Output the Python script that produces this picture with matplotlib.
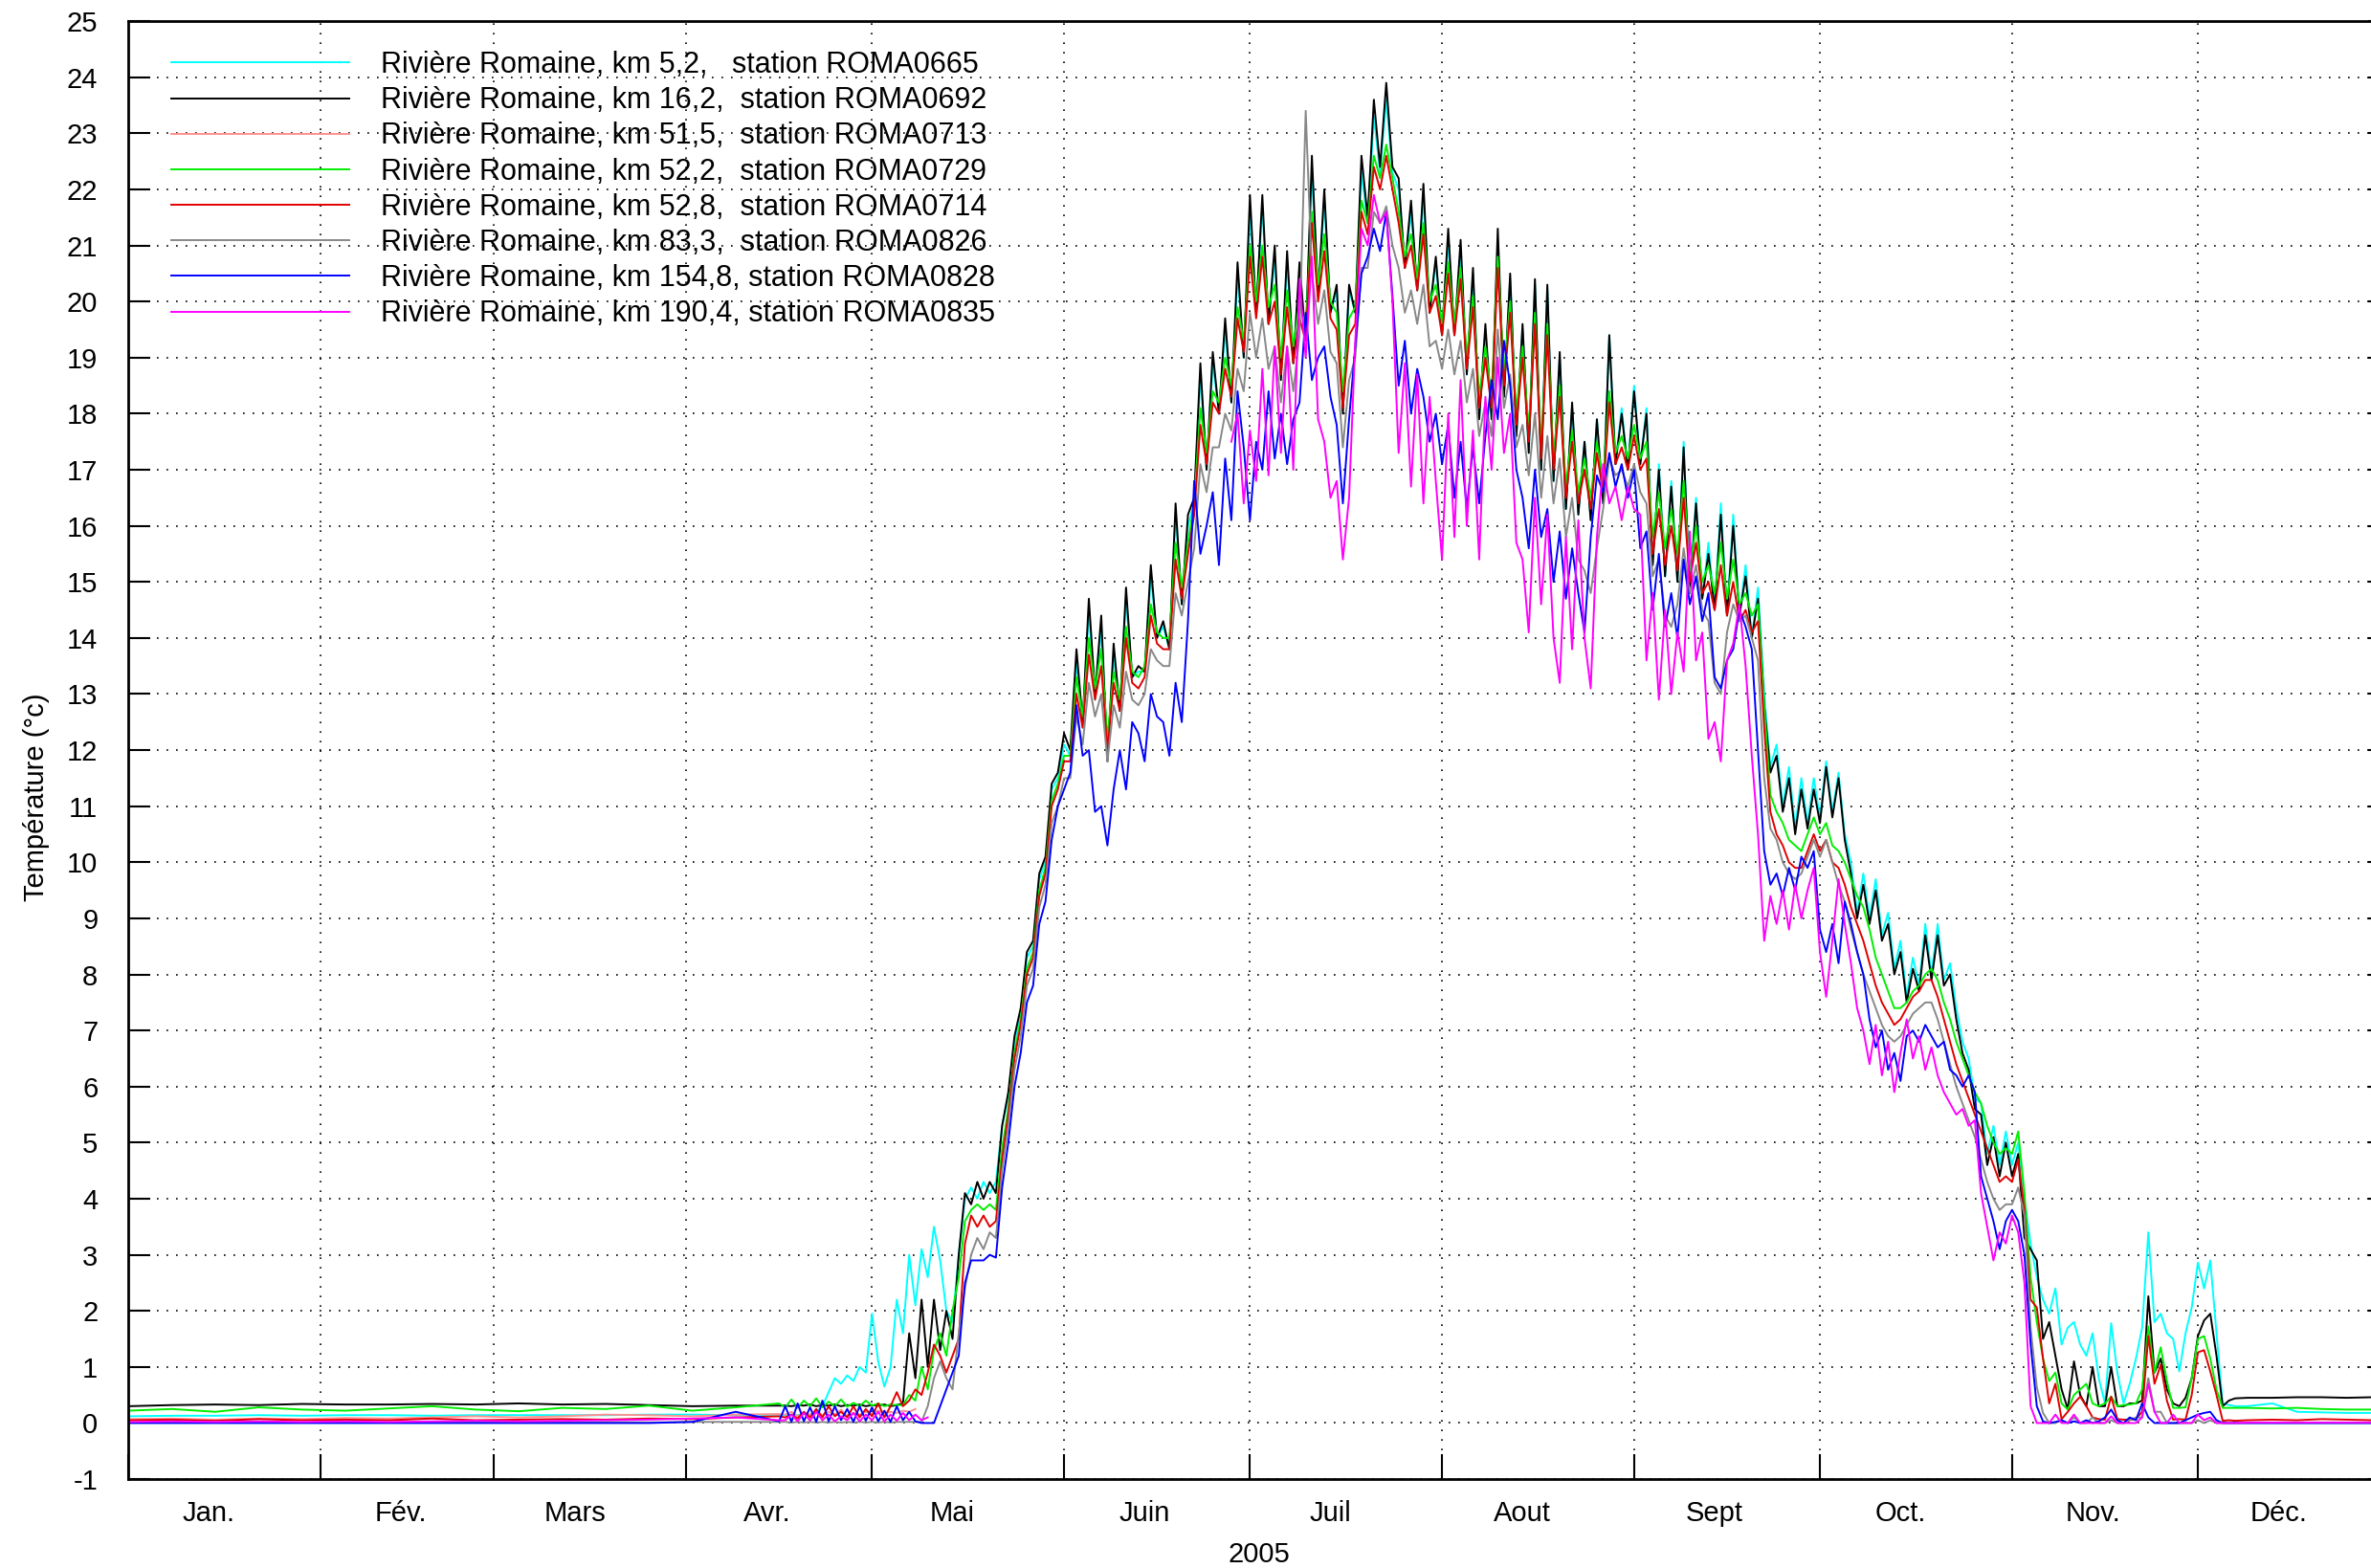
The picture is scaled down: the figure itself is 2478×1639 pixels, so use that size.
import numpy as np
import matplotlib.pyplot as plt

plt.rcParams['font.family'] = ['Liberation Sans', 'DejaVu Sans']
plt.rcParams['axes.unicode_minus'] = False

nan = np.nan

# sample days (day of year 2005, 0 = 1 Jan): weekly in winter, daily Apr-Dec, then every 4 days
days = np.concatenate([np.arange(0, 106, 7), np.arange(106, 341), np.r_[342:363:4, 365]])

month_starts = [0, 31, 59, 90, 120, 151, 181, 212, 243, 273, 304, 334]
month_names = ['Jan.', 'Fév.', 'Mars', 'Avr.', 'Mai', 'Juin', 'Juil', 'Aout', 'Sept', 'Oct.', 'Nov.', 'Déc.']

# water temperature (°C)
roma0665 = [
    0.12, 0.13, 0.13, 0.14, 0.13, 0.14, 0.14, 0.13, 0.14, 0.14, 0.14, 0.14, 0.15, 0.15, 0.14, 0.15,
    0.14, 0.15, 0.14, 0.16, 0.15, 0.20, 0.30, 0.55, 0.80, 0.70,   # 106
    0.85, 0.75, 1.0, 0.9, 1.95, 1.1, 0.65, 1.0, 2.2, 1.6,         # 116
    3.0, 2.1, 3.1, 2.6, 3.5, 2.9, 2.0, 1.8, 3.0, 4.0,             # 126
    4.2, 4.0, 4.3, 4.1, 4.3, 5.3, 5.8, 6.8, 7.3, 8.3,             # 136
    8.5, 9.7, 10.0, 11.3, 11.5, 12.1, 11.9, 13.6, 12.4, 14.5,     # 146
    12.9, 14.2, 11.9, 13.7, 12.7, 14.7, 13.3, 13.4, 13.4, 15.1,   # 156
    14.0, 14.2, 13.8, 16.2, 14.6, 16.0, 16.4, 18.7, 17.0, 18.9,   # 166
    18.0, 19.5, 18.2, 20.5, 19.0, 21.6, 19.8, 21.7, 19.6, 20.8,   # 176
    18.7, 20.7, 18.9, 20.5, 19.3, 22.3, 20.1, 21.8, 19.8, 20.2,   # 186
    18.1, 20.2, 19.8, 22.3, 21.4, 23.3, 22.3, 23.6, 22.3, 22.0,   # 196
    20.6, 21.6, 20.2, 21.9, 19.8, 20.7, 19.4, 21.1, 19.4, 20.9,   # 206
    18.7, 20.5, 17.9, 19.5, 17.9, 21.1, 18.3, 20.4, 17.6, 19.5,   # 216
    17.3, 20.3, 17.0, 20.2, 16.8, 19.0, 16.3, 18.1, 16.2, 17.5,   # 226
    16.1, 17.9, 16.4, 19.4, 17.1, 18.1, 17.0, 18.5, 17.1, 18.1,   # 236
    15.3, 17.1, 15.1, 16.8, 15.0, 17.5, 14.8, 16.5, 14.7, 15.7,   # 246
    14.5, 16.4, 14.4, 16.2, 14.4, 15.3, 14.0, 14.9, 13.0, 11.7,   # 256
    12.1, 11.0, 11.7, 10.6, 11.5, 10.7, 11.5, 10.8, 11.8, 10.9,   # 266
    11.6, 10.5, 10.0, 9.1, 9.8, 9.0, 9.7, 8.7, 9.1, 8.1,          # 276
    8.6, 7.6, 8.3, 7.8, 8.9, 8.0, 8.9, 7.9, 8.2, 7.4,             # 286
    6.8, 6.5, 5.8, 5.7, 4.8, 5.3, 4.6, 5.2, 4.6, 5.0,             # 296
    4.0, 3.2, 2.6, 2.2, 1.95, 2.4, 1.4, 1.7, 1.8, 1.4,            # 306
    1.2, 1.6, 0.8, 0.35, 1.78, 0.9, 0.35, 0.7, 1.15, 1.7,         # 316
    3.4, 1.8, 1.95, 1.6, 1.5, 0.92, 1.6, 2.06, 2.86, 2.4,         # 326
    2.9, 1.6, 0.35, 0.32, 0.30,                                   # 336
    0.30, 0.35, 0.20, 0.19, 0.18, 0.18, 0.18,
]

roma0692 = [
    0.30, 0.32, 0.33, 0.32, 0.34, 0.33, 0.33, 0.34, 0.33, 0.35, 0.33, 0.34, 0.32, 0.30, 0.31, 0.31,
    0.31, 0.30, 0.32, 0.31, 0.33, 0.30, 0.32, 0.31, 0.33, 0.30,   # 106
    0.32, 0.31, 0.33, 0.30, 0.32, 0.31, 0.33, 0.30, 0.32, 0.35,   # 116
    1.6, 0.8, 2.2, 1.0, 2.2, 1.3, 2.0, 1.5, 3.0, 4.1,             # 126
    3.9, 4.3, 4.0, 4.3, 4.1, 5.3, 5.9, 6.9, 7.4, 8.4,             # 136
    8.6, 9.8, 10.1, 11.4, 11.6, 12.3, 12.0, 13.8, 12.5, 14.7,     # 146
    13.0, 14.4, 11.8, 13.9, 12.7, 14.9, 13.3, 13.5, 13.4, 15.3,   # 156
    14.0, 14.3, 13.8, 16.4, 14.6, 16.2, 16.5, 18.9, 17.0, 19.1,   # 166
    18.0, 19.7, 18.2, 20.7, 19.0, 21.9, 19.8, 21.9, 19.6, 21.0,   # 176
    18.6, 20.9, 18.9, 20.7, 19.3, 22.6, 20.1, 22.0, 19.8, 20.3,   # 186
    18.0, 20.3, 19.8, 22.6, 21.5, 23.6, 22.4, 23.9, 22.4, 22.2,   # 196
    20.6, 21.8, 20.2, 22.1, 19.8, 20.8, 19.4, 21.3, 19.4, 21.1,   # 206
    18.7, 20.6, 17.9, 19.6, 17.9, 21.3, 18.3, 20.5, 17.6, 19.6,   # 216
    17.3, 20.4, 17.0, 20.3, 16.8, 19.1, 16.3, 18.2, 16.2, 17.5,   # 226
    16.1, 17.9, 16.4, 19.4, 17.1, 18.0, 17.0, 18.4, 17.1, 18.0,   # 236
    15.3, 17.0, 15.1, 16.7, 15.0, 17.4, 14.8, 16.4, 14.7, 15.5,   # 246
    14.5, 16.2, 14.4, 16.0, 14.4, 15.1, 14.0, 14.7, 12.8, 11.6,   # 256
    11.9, 10.9, 11.5, 10.5, 11.3, 10.6, 11.3, 10.7, 11.7, 10.8,   # 266
    11.5, 10.4, 9.8, 9.0, 9.6, 8.9, 9.5, 8.6, 8.9, 8.0,           # 276
    8.4, 7.5, 8.1, 7.7, 8.7, 7.9, 8.7, 7.8, 8.0, 7.2,             # 286
    6.6, 6.3, 5.6, 5.5, 4.6, 5.1, 4.4, 5.0, 4.4, 4.8,             # 296
    3.3, 3.1, 2.9, 1.5, 1.8, 1.2, 0.6, 0.25, 1.1, 0.5,            # 306
    0.3, 1.0, 0.3, 0.3, 1.0, 0.3, 0.3, 0.35, 0.35, 0.4,           # 316
    2.26, 0.9, 1.15, 0.6, 0.35, 0.3, 0.45, 0.8, 1.55, 1.83,       # 326
    1.95, 1.2, 0.3, 0.4, 0.44,                                    # 336
    0.45, 0.45, 0.46, 0.46, 0.45, 0.46, 0.46,
]

# ROMA0713 only recorded until early May
roma0713 = [
    0.07, 0.08, 0.06, 0.08, 0.07, 0.09, 0.08, 0.10, 0.12, 0.10, 0.12, 0.15, 0.14, 0.12, 0.15, 0.16,
    0.15, 0.20, 0.12, 0.18, 0.15, 0.22, 0.14, 0.20, 0.15, 0.24,   # 106
    0.13, 0.18, 0.15, 0.20, 0.17, 0.22, 0.16, 0.20, 0.18, 0.22,   # 116
    0.20, 0.25,                                                   # 126
]

roma0729 = [
    0.22, 0.25, 0.20, 0.28, 0.24, 0.22, 0.26, 0.30, 0.24, 0.21, 0.27, 0.25, 0.31, 0.22, 0.28, 0.35,
    0.28, 0.42, 0.27, 0.40, 0.30, 0.44, 0.28, 0.38, 0.30, 0.42,   # 106
    0.29, 0.36, 0.30, 0.40, 0.31, 0.35, 0.30, 0.33, 0.32, 0.32,   # 116
    0.5, 0.4, 1.0, 0.6, 1.3, 1.6, 1.2, 2.0, 2.6, 3.6,             # 126
    3.8, 3.9, 3.8, 3.9, 3.8, 4.9, 5.6, 6.6, 7.2, 8.1,             # 136
    8.4, 9.5, 9.9, 11.1, 11.4, 11.9, 11.9, 13.3, 12.6, 14.0,      # 146
    13.1, 13.8, 12.2, 13.4, 12.9, 14.2, 13.4, 13.3, 13.5, 14.6,   # 156
    14.1, 14.0, 14.0, 15.7, 14.9, 15.7, 16.4, 18.1, 17.3, 18.4,   # 166
    18.2, 19.0, 18.5, 19.9, 19.3, 21.0, 20.0, 21.0, 19.9, 20.3,   # 176
    19.0, 20.2, 19.2, 20.0, 19.5, 21.6, 20.3, 21.2, 20.0, 19.8,   # 186
    18.4, 19.7, 19.9, 21.8, 21.4, 22.6, 22.2, 22.8, 22.2, 21.6,   # 196
    20.8, 21.2, 20.4, 21.4, 20.0, 20.3, 19.6, 20.7, 19.6, 20.6,   # 206
    19.0, 20.1, 18.3, 19.2, 18.3, 20.8, 18.7, 20.0, 18.0, 19.2,   # 216
    17.7, 19.8, 17.4, 19.6, 17.2, 18.5, 16.7, 17.7, 16.6, 17.2,   # 226
    16.5, 17.5, 16.8, 18.4, 17.3, 17.6, 17.2, 17.8, 17.2, 17.5,   # 236
    15.8, 16.6, 15.6, 16.3, 15.5, 16.8, 15.2, 16.0, 15.0, 15.3,   # 246
    14.8, 15.7, 14.7, 15.4, 14.6, 14.8, 14.4, 14.6, 12.8, 11.2,   # 256
    10.9, 10.7, 10.4, 10.3, 10.2, 10.5, 10.8, 10.5, 10.7, 10.3,   # 266
    10.2, 10.0, 9.7, 9.4, 9.2, 8.8, 8.3, 8.0, 7.7, 7.4,           # 276
    7.4, 7.5, 7.7, 7.8, 8.0, 8.1, 7.9, 7.5, 7.2, 6.8,             # 286
    6.5, 6.2, 5.9, 5.7, 5.3, 5.0, 4.8, 4.9, 4.8, 5.2,             # 296
    4.1, 2.6, 1.8, 1.15, 0.75, 0.9, 0.35, 0.24, 0.5, 0.6,         # 306
    0.7, 0.35, 0.3, 0.35, 0.47, 0.3, 0.32, 0.33, 0.35, 0.6,       # 316
    1.72, 0.9, 1.35, 0.75, 0.27, 0.27, 0.28, 0.8, 1.5, 1.55,      # 326
    1.15, 0.6, 0.27, 0.27, 0.27,                                  # 336
    0.27, 0.26, 0.27, 0.25, 0.24, 0.24, 0.24,
]

roma0714 = [
    0.05, 0.06, 0.04, 0.07, 0.05, 0.06, 0.05, 0.08, 0.05, 0.06, 0.07, 0.06, 0.08, 0.07, 0.10, 0.12,
    0.10, 0.15, 0.08, 0.20, 0.10, 0.25, 0.10, 0.30, 0.12, 0.20,   # 106
    0.10, 0.30, 0.10, 0.25, 0.12, 0.35, 0.10, 0.30, 0.55, 0.30,   # 116
    0.4, 0.6, 0.5, 0.9, 1.4, 1.2, 0.9, 1.2, 1.5, 3.2,             # 126
    3.7, 3.5, 3.7, 3.5, 3.6, 4.7, 5.5, 6.5, 7.1, 8.0,             # 136
    8.3, 9.4, 9.8, 11.0, 11.3, 11.8, 11.8, 13.0, 12.4, 13.7,      # 146
    12.9, 13.5, 12.0, 13.2, 12.7, 14.0, 13.2, 13.1, 13.3, 14.4,   # 156
    13.9, 13.8, 13.8, 15.4, 14.7, 15.5, 16.2, 17.8, 17.1, 18.2,   # 166
    18.0, 18.8, 18.3, 19.7, 19.1, 20.8, 19.7, 20.8, 19.6, 20.0,   # 176
    18.7, 19.9, 18.9, 19.7, 19.3, 21.4, 20.0, 20.9, 19.7, 19.5,   # 186
    18.1, 19.4, 19.6, 21.6, 21.2, 22.4, 22.0, 22.6, 22.0, 21.4,   # 196
    20.6, 21.0, 20.2, 21.2, 19.8, 20.1, 19.4, 20.5, 19.4, 20.4,   # 206
    18.8, 19.9, 18.1, 19.0, 18.1, 20.6, 18.5, 19.8, 17.8, 19.0,   # 216
    17.5, 19.6, 17.2, 19.4, 17.0, 18.3, 16.5, 17.5, 16.4, 17.0,   # 226
    16.3, 17.3, 16.6, 18.2, 17.1, 17.4, 17.0, 17.6, 17.0, 17.2,   # 236
    15.5, 16.3, 15.3, 16.0, 15.2, 16.5, 15.0, 15.7, 14.8, 15.0,   # 246
    14.5, 15.3, 14.4, 15.0, 14.3, 14.5, 14.1, 14.3, 12.4, 10.9,   # 256
    10.5, 10.3, 10.0, 9.9, 9.9, 10.2, 10.5, 10.2, 10.4, 10.0,     # 266
    9.9, 9.6, 9.2, 8.9, 8.6, 8.2, 7.8, 7.5, 7.3, 7.1,             # 276
    7.2, 7.4, 7.6, 7.7, 7.9, 7.9, 7.6, 7.2, 6.8, 6.4,             # 286
    6.1, 5.8, 5.5, 5.2, 4.9, 4.6, 4.3, 4.4, 4.3, 4.7,             # 296
    3.8, 2.2, 2.06, 1.15, 0.35, 0.7, 0.07, 0.2, 0.35, 0.47,       # 306
    0.3, 0.1, 0.07, 0.06, 0.47, 0.07, 0.06, 0.06, 0.07, 0.2,      # 316
    1.55, 0.7, 1.04, 0.4, 0.06, 0.07, 0.06, 0.5, 1.26, 1.3,       # 326
    0.92, 0.5, 0.04, 0.05, 0.04,                                  # 336
    0.05, 0.06, 0.05, 0.07, 0.06, 0.05, 0.05,
]

roma0826 = [
    0.01, 0.01, 0.02, 0.01, 0.01, 0.02, 0.01, 0.01, 0.02, 0.01, 0.01, 0.02, 0.01, 0.02, 0.02, 0.02,
    0.02, 0.01, 0.02, 0.01, 0.02, 0.01, 0.02, 0.01, 0.02, 0.01,   # 106
    0.02, 0.01, 0.02, 0.01, 0.02, 0.01, 0.02, 0.01, 0.02, 0.02,   # 116
    0.02, 0.02, 0.02, 0.3, 0.8, 1.1, 0.8, 0.6, 1.6, 2.4,          # 126
    3.0, 3.3, 3.1, 3.4, 3.3, 4.5, 5.3, 6.3, 6.9, 7.8,             # 136
    8.1, 9.2, 9.6, 10.7, 11.0, 11.5, 11.5, 12.6, 12.1, 13.2,      # 146
    12.6, 13.0, 11.8, 12.8, 12.4, 13.4, 12.9, 12.8, 13.0, 13.8,   # 156
    13.6, 13.5, 13.5, 14.8, 14.4, 15.0, 15.6, 17.1, 16.6, 17.4,   # 166
    17.4, 18.0, 17.7, 18.8, 18.4, 19.8, 19.0, 19.7, 18.8, 19.2,   # 176
    18.2, 19.2, 18.4, 19.4, 23.4, 20.5, 19.6, 20.2, 19.1, 18.9,   # 186
    17.4, 18.6, 19.0, 20.6, 20.6, 21.6, 21.4, 21.7, 21.0, 20.6,   # 196
    19.8, 20.2, 19.6, 20.3, 19.2, 19.3, 18.8, 19.5, 18.7, 19.3,   # 206
    18.2, 18.8, 17.6, 18.2, 17.6, 19.5, 18.1, 18.7, 17.4, 17.8,   # 216
    16.9, 18.0, 16.5, 17.6, 16.4, 17.2, 15.8, 16.5, 15.4, 15.2,   # 226
    14.8, 15.6, 16.3, 17.2, 16.9, 17.0, 16.7, 17.1, 16.6, 16.4,   # 236
    15.1, 15.4, 14.4, 14.2, 14.6, 15.6, 14.8, 15.3, 14.5, 14.3,   # 246
    13.2, 13.0, 14.1, 14.6, 14.3, 14.4, 14.0, 13.6, 11.5, 10.6,   # 256
    10.4, 10.0, 9.8, 9.7, 9.8, 10.1, 10.4, 10.1, 10.4, 10.0,      # 266
    9.6, 9.3, 8.8, 8.4, 8.0, 7.7, 7.4, 7.1, 6.9, 6.8,             # 276
    6.9, 7.1, 7.3, 7.4, 7.5, 7.5, 7.2, 6.8, 6.4, 6.0,             # 286
    5.7, 5.4, 5.1, 4.7, 4.3, 4.0, 3.8, 3.9, 3.9, 4.2,             # 296
    3.7, 1.7, 0.64, 0.18, 0.0, 0.0, 0.05, 0.0, 0.1, 0.0,          # 306
    0.0, 0.1, 0.0, 0.0, 0.05, 0.0, 0.0, 0.05, 0.1, 0.1,           # 316
    0.8, 0.2, 0.2, 0.0, 0.0, 0.0, 0.0, 0.0, 0.05, 0.0,            # 326
    0.05, 0.0, 0.0, 0.0, 0.0,                                     # 336
    0.0, 0.0, 0.0, 0.0, 0.0, 0.0, 0.0,
]

roma0828 = [
    0.0, 0.0, 0.0, 0.0, 0.0, 0.0, 0.0, 0.0, 0.0, 0.0, 0.0, 0.0, 0.0, 0.02, 0.2, 0.03,
    0.30, 0.02, 0.35, 0.03, 0.28, 0.02, 0.40, 0.03, 0.30, 0.05,   # 106
    0.25, 0.02, 0.30, 0.04, 0.28, 0.03, 0.22, 0.02, 0.30, 0.05,   # 116
    0.20, 0.03, 0.0, 0.0, 0.0, 0.3, 0.6, 0.9, 1.2, 2.5,           # 126
    2.9, 2.9, 2.9, 3.0, 2.95, 4.2, 5.0, 6.0, 6.6, 7.5,            # 136
    7.8, 8.9, 9.3, 10.4, 11.0, 11.3, 11.6, 12.8, 11.9, 12.0,      # 146
    10.9, 11.0, 10.3, 11.3, 12.0, 11.3, 12.5, 12.3, 11.8, 13.0,   # 156
    12.6, 12.5, 11.9, 13.2, 12.5, 14.3, 16.8, 15.5, 16.0, 16.6,   # 166
    15.3, 17.2, 16.1, 18.4, 17.4, 16.1, 17.5, 17.0, 18.4, 17.2,   # 176
    18.0, 17.1, 17.9, 18.2, 19.8, 18.6, 19.0, 19.2, 18.3, 17.8,   # 186
    16.4, 17.9, 19.2, 20.5, 20.8, 21.3, 20.9, 21.6, 20.1, 18.5,   # 196
    19.3, 18.0, 18.8, 18.3, 17.5, 18.0, 17.1, 17.8, 16.5, 17.5,   # 206
    16.3, 17.4, 16.4, 17.6, 18.6, 17.9, 19.3, 18.5, 17.0, 16.5,   # 216
    15.6, 17.0, 15.8, 16.3, 15.0, 15.9, 14.7, 15.6, 14.8, 14.1,   # 226
    15.8, 16.9, 16.6, 17.3, 16.7, 17.1, 16.5, 17.0, 15.6, 15.9,   # 236
    14.5, 15.5, 14.2, 14.8, 14.0, 15.4, 14.6, 15.1, 14.3, 14.8,   # 246
    13.3, 13.1, 13.6, 13.8, 14.5, 14.2, 13.8, 12.0, 10.2, 9.6,    # 256
    9.8, 9.4, 9.9, 9.5, 10.1, 9.9, 10.2, 8.8, 8.4, 8.9,           # 266
    8.2, 9.3, 8.9, 8.4, 8.0, 7.2, 6.7, 7.0, 6.3, 6.6,             # 276
    6.1, 6.9, 7.0, 6.8, 7.1, 6.9, 6.7, 6.8, 6.3, 6.2,             # 286
    6.0, 6.2, 5.9, 4.4, 4.0, 3.6, 3.1, 3.6, 3.8, 3.6,             # 296
    3.0, 1.4, 0.3, 0.03, 0.0, 0.02, 0.05, 0.0, 0.03, 0.0,         # 306
    0.05, 0.0, 0.03, 0.1, 0.24, 0.05, 0.0, 0.1, 0.05, 0.35,       # 316
    0.1, 0.0, 0.0, 0.0, 0.0, 0.0, 0.05, 0.1, 0.15, 0.18,          # 326
    0.2, 0.05, 0.0, 0.0, 0.0,                                     # 336
    0.0, 0.0, 0.0, 0.0, 0.0, 0.0, 0.0,
]

# ROMA0835 has no record from early May to late June
roma0835 = [
    0.02, 0.03, 0.02, 0.03, 0.02, 0.03, 0.02, 0.03, 0.04, 0.03, 0.04, 0.05, 0.06, 0.08, 0.10, 0.05,
    0.05, 0.15, 0.03, 0.18, 0.04, 0.20, 0.05, 0.15, 0.03, 0.12,   # 106
    0.05, 0.18, 0.03, 0.15, 0.05, 0.20, 0.03, 0.15, 0.04, 0.18,   # 116
    0.05, 0.15, 0.05, 0.10] + [nan] * 48 + [                      # 126-177
    17.5, 18.0, 16.4, 17.7, 16.8, 18.8, 16.9, 19.2,               # 178
    17.3, 19.2, 17.0, 20.4, 19.0, 20.8, 17.9, 17.5, 16.5, 16.8,   # 186
    15.4, 16.5, 19.3, 21.3, 21.0, 21.9, 21.4, 21.6, 20.0, 17.3,   # 196
    18.9, 16.7, 18.7, 16.4, 18.3, 16.8, 15.4, 18.0, 15.8, 18.6,   # 206
    16.0, 17.7, 15.4, 18.3, 17.0, 19.0, 17.3, 18.0, 15.7, 15.4,   # 216
    14.1, 16.5, 14.6, 16.2, 14.0, 13.2, 15.8, 13.8, 16.1, 14.0,   # 226
    13.1, 15.8, 17.1, 16.4, 16.7, 16.1, 16.7, 16.3, 16.2, 13.6,   # 236
    14.8, 12.9, 14.5, 13.0, 14.1, 13.4, 15.9, 13.6, 14.1, 12.2,   # 246
    12.5, 11.8, 13.6, 13.9, 14.6, 13.5, 11.9, 10.5, 8.6, 9.4,     # 256
    8.9, 9.5, 8.8, 9.6, 9.0, 9.5, 9.9, 8.4, 7.6, 8.6,             # 266
    9.7, 8.9, 8.2, 7.4, 7.0, 6.4, 7.1, 6.2, 6.8, 5.9,             # 276
    6.6, 7.2, 6.5, 6.9, 6.3, 6.7, 6.2, 5.9, 5.7, 5.5,             # 286
    5.6, 5.3, 5.4, 4.1, 3.5, 2.9, 3.4, 3.2, 3.7, 3.4,             # 296
    2.5, 0.3, 0.0, 0.0, 0.0, 0.15, 0.0, 0.0, 0.15, 0.0,           # 306
    0.0, 0.0, 0.0, 0.0, 0.12, 0.0, 0.0, 0.0, 0.0, 0.1,            # 316
    0.7, 0.2, 0.0, 0.0, 0.15, 0.0, 0.0, 0.0, 0.15, 0.05,          # 326
    0.1, 0.0, 0.0, 0.0, 0.0,                                      # 336
    0.01, 0.01, 0.01, 0.01, 0.01, 0.01, 0.01,
]

stations = [
    ('Rivière Romaine, km 5,2,   station ROMA0665', roma0665, '#00ffff'),
    ('Rivière Romaine, km 16,2,  station ROMA0692', roma0692, '#000000'),
    ('Rivière Romaine, km 51,5,  station ROMA0713', roma0713, '#ff9090'),
    ('Rivière Romaine, km 52,2,  station ROMA0729', roma0729, '#00ee00'),
    ('Rivière Romaine, km 52,8,  station ROMA0714', roma0714, '#e00000'),
    ('Rivière Romaine, km 83,3,  station ROMA0826', roma0826, '#888888'),
    ('Rivière Romaine, km 154,8, station ROMA0828', roma0828, '#0000ff'),
    ('Rivière Romaine, km 190,4, station ROMA0835', roma0835, '#ff00ff'),
]

fig = plt.figure(figsize=(24.78, 16.39), dpi=100)
# the right border of the original sits just past the picture edge (31 Dec)
ax = fig.add_axes([0.0542, 0.0567, 0.9538, 0.9298])

for label, vals, color in stations:
    ax.plot(days[:len(vals)], vals, color=color, lw=1.4, label=label)

ax.set_xlim(0, 365)
ax.set_ylim(-1, 25)
ax.set_yticks(range(-1, 26))

ax.set_xticks(month_starts)
ax.set_xticklabels([])
ax.set_xticks([m + 13 for m in month_starts], minor=True)
ax.set_xticklabels(month_names, minor=True)

ax.tick_params(axis='y', which='major', direction='in', length=16.5, width=1.5,
               left=True, right=True, labelsize=21, pad=23)
ax.tick_params(axis='x', which='major', direction='in', length=18.5, width=1.5,
               bottom=True, top=False)
ax.tick_params(axis='x', which='minor', length=0, labelsize=21, pad=15.5)

ax.set_axisbelow(True)
ax.grid(True, which='major', linestyle=(0, (1, 5)), color='black', linewidth=1.2)
for sp in ax.spines.values():
    sp.set_linewidth(2)

ax.set_xlabel('2005', fontsize=21, labelpad=11)
fig.text(38 / 2478, 1 - 833 / 1639, 'Température (°c)', rotation=90,
         ha='center', va='center', fontsize=21)

ax.legend(loc='upper left', bbox_to_anchor=(0.0189, 0.9797), frameon=False,
          fontsize=22, handlelength=6.09, handletextpad=1.08, labelspacing=0.235,
          borderpad=0, borderaxespad=0)

fig.savefig('out.png', dpi=100)
